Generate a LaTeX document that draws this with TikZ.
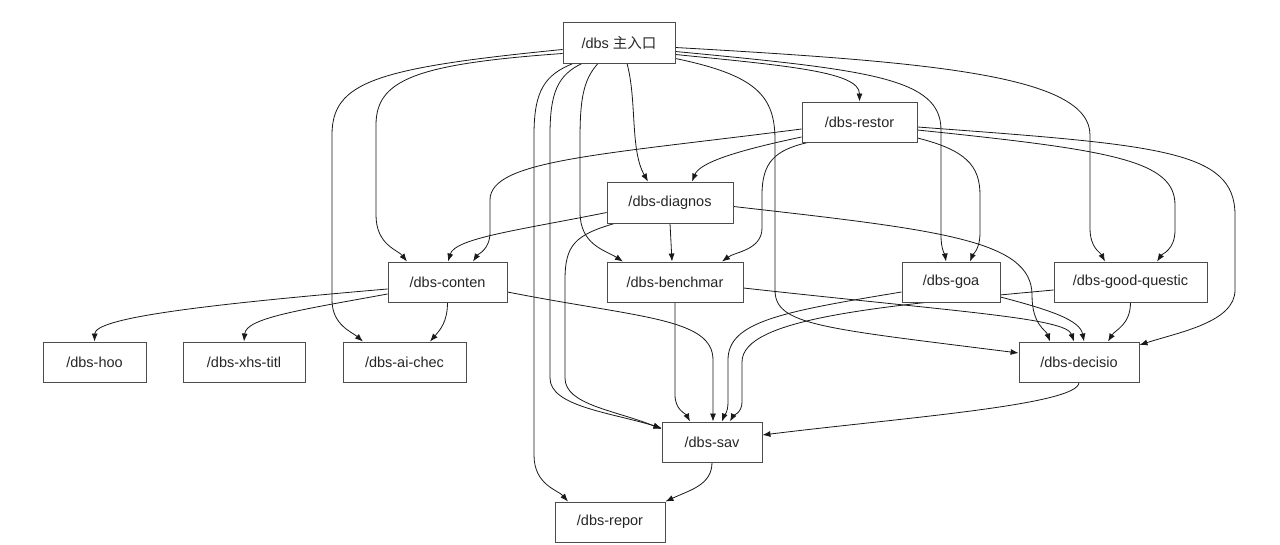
\documentclass[tikz,border=0pt]{standalone}
\usepackage{fontspec}
\setmainfont{Liberation Sans}
\newfontfamily\cjk{Noto Sans CJK SC}
\usetikzlibrary{arrows.meta,calc}
\pgfdeclarelayer{bg}
\pgfdeclarelayer{canvas}
\pgfsetlayers{canvas,bg,main}
\tikzset{
  box/.style={draw=black!70, fill=white, line width=0.9pt, rectangle,
    minimum height=40pt, inner sep=0pt, text=black!85,
    font=\fontsize{14.5}{16}\selectfont},
  edge/.style={draw=black!90, line width=0.8pt, -{Latex[length=8pt,width=6pt]}},
}
\begin{document}
\begin{tikzpicture}[x=1pt,y=-1pt]
\begin{pgfonlayer}{canvas}
\fill[white] (0,0) rectangle (1280,545);
\end{pgfonlayer}
\useasboundingbox (0,0) rectangle (1280,545);
% nodes
\node[box, minimum width=112pt, minimum height=41pt] (main) at (619,42.5) {/dbs {\cjk 主入口}};
\node[box, minimum width=115pt] (restore) at (859.5,122) {/dbs-restor};
\node[box, minimum width=126pt, minimum height=41pt] (diagnos) at (670,202.5) {/dbs-diagnos};
\node[box, minimum width=119pt] (conten) at (447.5,282) {/dbs-conten};
\node[box, minimum width=136pt] (bench) at (675,282) {/dbs-benchmar};
\node[box, minimum width=98pt] (goa) at (951,282) {/dbs-goa};
\node[box, minimum width=153pt] (gq) at (1130.5,282) {/dbs-good-questic};
\node[box, minimum width=103pt] (hoo) at (94.5,362) {/dbs-hoo};
\node[box, minimum width=122pt] (xhs) at (244,362) {/dbs-xhs-titl};
\node[box, minimum width=123pt] (aichec) at (404.5,362) {/dbs-ai-chec};
\node[box, minimum width=120pt] (decisio) at (1079,362) {/dbs-decisio};
\node[box, minimum width=100pt] (sav) at (712,442) {/dbs-sav};
\node[box, minimum width=110pt] (repor) at (610,522) {/dbs-repor};

\begin{pgfonlayer}{bg}
% from main
\draw[edge] ($(main.east)+(0,12)$) .. controls (790,66) and (859.5,72) .. (restore.north);
\draw[edge] ($(main.east)+(0,5)$) .. controls (930,62) and (1090,75) .. (1090,135) -- (1090,228) .. controls (1090,248) and (1100,252) .. ($(gq.north)+(-25.5,0)$);
\draw[edge] ($(main.east)+(0,9)$) .. controls (870,70) and (941,78) .. (941,130) -- (941,235) .. controls (941,250) and (945,255) .. ($(goa.north)+(-5,0)$);
\draw[edge] ($(main.east)+(0,16)$) .. controls (755,75) and (775,95) .. (775,140) -- (775,290) .. controls (775,325) and (820,328) .. ($(decisio.west)+(0,-9)$);
\draw[edge] ($(main.south)+(8,0)$) .. controls (637,100) and (630,150) .. ($(diagnos.north)+(-22,0)$);
\draw[edge] ($(main.west)+(0,11)$) .. controls (415,64) and (376,80) .. (376,125) -- (376,215) .. controls (376,245) and (398,250) .. ($(conten.north)+(-40.5,0)$);
\draw[edge] ($(main.west)+(0,7)$) .. controls (375,68) and (332,82) .. (332,135) -- (332,300) .. controls (332,325) and (352,332) .. ($(aichec.north)+(-41.5,0)$);
\draw[edge] ($(main.south)+(-46,0)$) .. controls (545,75) and (534,90) .. (534,135) -- (534,455) .. controls (534,485) and (558,490) .. ($(repor.north)+(-42,0)$);
\draw[edge] ($(main.south)+(-37,0)$) .. controls (558,75) and (550,92) .. (550,135) -- (550,378) .. controls (550,406) and (608,412) .. ($(sav.west)+(0,-14)$);
\draw[edge] ($(main.south)+(-21,0)$) .. controls (583,80) and (580,100) .. (580,140) -- (580,212) .. controls (580,245) and (605,250) .. ($(bench.north)+(-52,0)$);
% from restore
\draw[edge] ($(restore.west)+(0,15)$) .. controls (740,150) and (700,162) .. ($(diagnos.north)+(22,0)$);
\draw[edge] ($(restore.west)+(0,7)$) .. controls (600,155) and (490,160) .. (490,200) -- (490,232) .. controls (490,250) and (478,254) .. ($(conten.north)+(25.5,0)$);
\draw[edge] ($(restore.south)+(-51.5,0)$) .. controls (775,150) and (762,162) .. (762,195) -- (762,228) .. controls (762,250) and (735,252) .. ($(bench.north)+(47,0)$);
\draw[edge] ($(restore.east)+(0,16)$) .. controls (965,150) and (980,165) .. (980,195) -- (980,232) .. controls (980,250) and (973,254) .. ($(goa.north)+(19,0)$);
\draw[edge] ($(restore.east)+(0,8)$) .. controls (1110,150) and (1175,160) .. (1175,205) -- (1175,230) .. controls (1175,250) and (1162,254) .. ($(gq.north)+(26.5,0)$);
\draw[edge] ($(restore.east)+(0,5)$) .. controls (1160,145) and (1235,150) .. (1235,215) -- (1235,290) .. controls (1235,322) and (1180,332) .. ($(decisio.east)+(0,-17)$);
% from diagnos
\draw[edge] ($(diagnos.west)+(0,10)$) .. controls (520,230) and (455,238) .. ($(conten.north)+(0.5,0)$);
\draw[edge] (diagnos.south) -- ($(bench.north)+(-3,0)$);
\draw[edge] ($(diagnos.south west)+(8,0)$) .. controls (575,235) and (565,245) .. (565,280) -- (565,378) .. controls (565,405) and (615,410) .. ($(sav.west)+(0,-13)$);
\draw[edge] ($(diagnos.east)+(0,4)$) .. controls (940,230) and (1032,240) .. (1032,295) .. controls (1032,325) and (1046,330) .. ($(decisio.north)+(-29,0)$);
% from conten
\draw[edge] ($(conten.west)+(0,7)$) .. controls (200,305) and (95,318) .. (hoo.north);
\draw[edge] ($(conten.west)+(0,12)$) .. controls (300,310) and (246,318) .. (xhs.north);
\draw[edge] (conten.south) .. controls (447.5,322) and (440,330) .. ($(aichec.north)+(25.5,0)$);
\draw[edge] ($(conten.east)+(0,10)$) .. controls (640,318) and (713,318) .. (713,360) -- ($(sav.north)+(1,0)$);
% from benchmar
\draw[edge] (bench.south) -- (675,395) .. controls (675,410) and (686,414) .. ($(sav.north)+(-22,0)$);
\draw[edge] ($(bench.east)+(0,6)$) .. controls (960,312) and (1066,318) .. ($(decisio.north)+(-5,0)$);
% from goa
\draw[edge] ($(goa.west)+(0,10)$) .. controls (780,312) and (728,322) .. (728,360) -- (728,402) .. controls (728,413) and (724,416) .. ($(sav.north)+(10,0)$);
\draw[edge] ($(goa.east)+(0,15)$) .. controls (1050,310) and (1080,320) .. ($(decisio.north)+(5,0)$);
% from good-question
\draw[edge] ($(gq.west)+(0,8)$) .. controls (880,306) and (742,318) .. (742,362) -- (742,402) .. controls (742,413) and (733,416) .. ($(sav.north)+(18,0)$);
\draw[edge] (gq.south) .. controls (1130.5,325) and (1115,330) .. ($(decisio.north)+(29,0)$);
% from decisio and sav
\draw[edge] (decisio.south) .. controls (1079,405) and (900,418) .. ($(sav.east)+(0,-7)$);
\draw[edge] (sav.south) .. controls (712,485) and (690,490) .. (repor.north east);
\end{pgfonlayer}
\end{tikzpicture}
\end{document}
